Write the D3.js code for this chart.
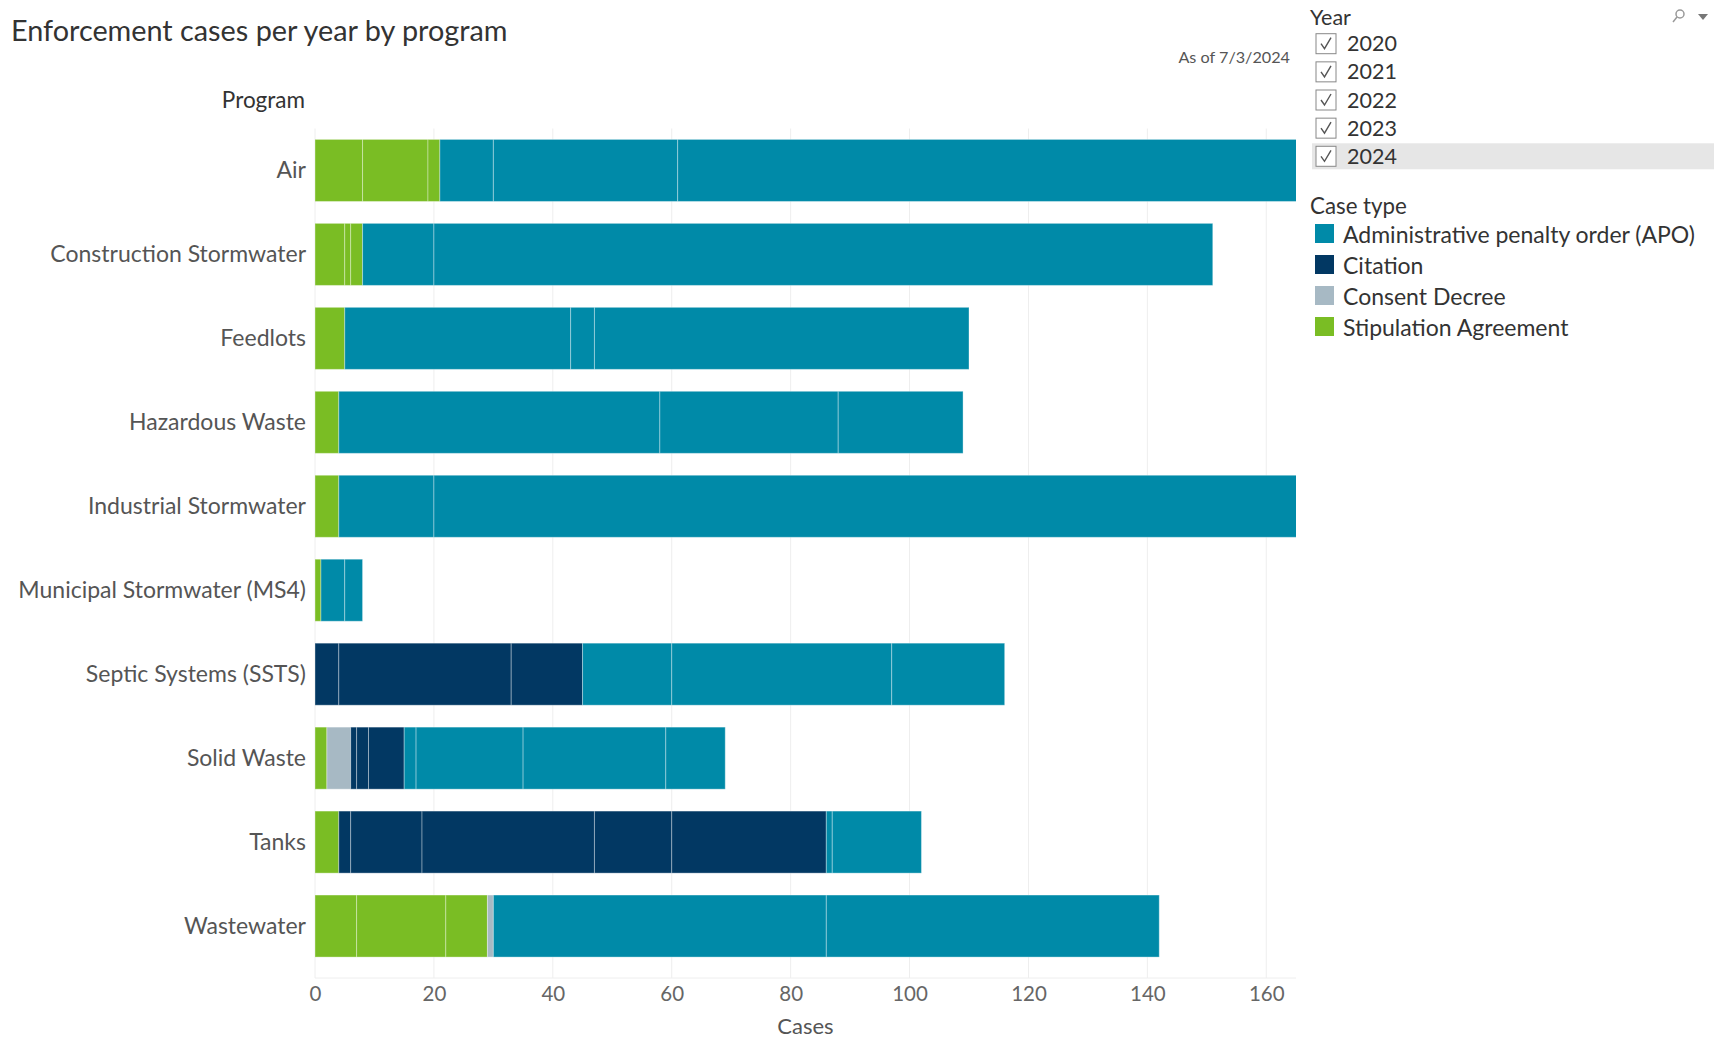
<!DOCTYPE html>
<html>
<head>
<meta charset="utf-8">
<script src="https://cdn.jsdelivr.net/npm/d3@7"></script>
<style>
  html, body { margin: 0; padding: 0; background: #ffffff; }
  svg { display: block; font-family: Lato, "Open Sans", sans-serif; }
</style>
</head>
<body>
<svg id="chart" width="1714" height="1039"></svg>
<script>
// ---------------- DATA ----------------
const programs = [
  "Air", "Construction Stormwater", "Feedlots", "Hazardous Waste",
  "Industrial Stormwater", "Municipal Stormwater (MS4)", "Septic Systems (SSTS)",
  "Solid Waste", "Tanks", "Wastewater"
];
const years = ["2020", "2021", "2022", "2023", "2024"];
// stacking order (left to right)
const caseTypes = ["Stipulation Agreement", "Consent Decree", "Citation", "Administrative penalty order (APO)"];
// legend order
const legendTypes = ["Administrative penalty order (APO)", "Citation", "Consent Decree", "Stipulation Agreement"];
const typeColors = ["#7abd24", "#a7b9c4", "#023863", "#008aa8"];

// cases per program (rows) per year (columns 2020..2024)
const stipulation = [
  [8, 11, 2, 0, 0], [5, 1, 2, 0, 0], [5, 0, 0, 0, 0], [4, 0, 0, 0, 0], [4, 0, 0, 0, 0],
  [1, 0, 0, 0, 0], [0, 0, 0, 0, 0], [2, 0, 0, 0, 0], [4, 0, 0, 0, 0], [7, 15, 7, 0, 0]
];
const consentDecree = [
  [0, 0, 0, 0, 0], [0, 0, 0, 0, 0], [0, 0, 0, 0, 0], [0, 0, 0, 0, 0], [0, 0, 0, 0, 0],
  [0, 0, 0, 0, 0], [0, 0, 0, 0, 0], [4, 0, 0, 0, 0], [0, 0, 0, 0, 0], [1, 0, 0, 0, 0]
];
const citation = [
  [0, 0, 0, 0, 0], [0, 0, 0, 0, 0], [0, 0, 0, 0, 0], [0, 0, 0, 0, 0], [0, 0, 0, 0, 0],
  [0, 0, 0, 0, 0], [4, 29, 12, 0, 0], [1, 2, 6, 0, 0], [2, 12, 29, 13, 26], [0, 0, 0, 0, 0]
];
const apo = [
  [9, 31, 125, 0, 0], [12, 131, 0, 0, 0], [38, 4, 63, 0, 0], [54, 30, 21, 0, 0], [16, 150, 0, 0, 0],
  [4, 3, 0, 0, 0], [15, 37, 19, 0, 0], [2, 18, 24, 10, 0], [1, 15, 0, 0, 0], [56, 56, 0, 0, 0]
];
const seriesByType = [stipulation, consentDecree, citation, apo];

const xTicks = [0, 20, 40, 60, 80, 100, 120, 140, 160];
const xDomain = [0, 165];
const titleText = "Enforcement cases per year by program";
const asOfText = "As of 7/3/2024";

// ---------------- LAYOUT ----------------
const svg = d3.select("#chart");
const plot = { left: 315, right: 1296, top: 128.5, bottom: 968, axisY: 978 };

const x = d3.scaleLinear().domain(xDomain).range([plot.left, plot.right]);
const y = d3.scaleBand().domain(programs).range([plot.top, plot.bottom])
  .paddingInner(0.261).paddingOuter(0.13);
const color = d3.scaleOrdinal().domain(caseTypes).range(typeColors);

// title
svg.append("text").attr("x", 11).attr("y", 41)
  .attr("font-size", 28.8).attr("fill", "#333").text(titleText);

svg.append("text").attr("x", 1290).attr("y", 63).attr("text-anchor", "end")
  .attr("font-size", 16.2).attr("fill", "#555").text(asOfText);

svg.append("text").attr("x", 305).attr("y", 108).attr("text-anchor", "end")
  .attr("font-size", 22.5).attr("fill", "#333").text("Program");

// gridlines
svg.append("g").selectAll("line").data(xTicks).join("line")
  .attr("x1", d => x(d)).attr("x2", d => x(d))
  .attr("y1", plot.top).attr("y2", plot.axisY)
  .attr("stroke", "#eeeeee").attr("stroke-width", 1);
svg.append("line").attr("x1", plot.left).attr("x2", plot.right)
  .attr("y1", plot.axisY).attr("y2", plot.axisY)
  .attr("stroke", "#eeeeee");

// clip
svg.append("clipPath").attr("id", "plotclip").append("rect")
  .attr("x", plot.left).attr("y", plot.top - 5)
  .attr("width", plot.right - plot.left).attr("height", plot.bottom - plot.top + 10);

// segments
const segs = [];
programs.forEach((p, pi) => {
  let acc = 0;
  caseTypes.forEach((ct, ti) => {
    years.forEach((yr, yi) => {
      const v = seriesByType[ti][pi][yi];
      if (v > 0) {
        segs.push({ program: p, type: ct, year: yr, x0: acc, x1: acc + v });
        acc += v;
      }
    });
  });
});

svg.append("g").attr("clip-path", "url(#plotclip)")
  .selectAll("rect").data(segs).join("rect")
  .attr("x", d => x(d.x0))
  .attr("width", d => x(d.x1) - x(d.x0))
  .attr("y", d => y(d.program))
  .attr("height", y.bandwidth())
  .attr("fill", d => color(d.type))
  .attr("stroke", "rgba(255,255,255,0.35)")
  .attr("stroke-width", 1);

// y labels
svg.append("g").selectAll("text").data(programs).join("text")
  .attr("x", 306).attr("y", d => y(d) + y.bandwidth() / 2)
  .attr("dy", "0.35em").attr("text-anchor", "end")
  .attr("font-size", 23).attr("fill", "#555").text(d => d);

// x axis
const xAxis = d3.axisBottom(x).tickValues(xTicks).tickSize(0).tickPadding(0);
const gx = svg.append("g").attr("transform", `translate(0,${plot.axisY})`).call(xAxis);
gx.select(".domain").remove();
gx.selectAll("text").attr("font-size", 20.5).attr("fill", "#666")
  .attr("font-family", "Lato, sans-serif").attr("dy", "1.1em");

svg.append("text").attr("x", (plot.left + plot.right) / 2).attr("y", 1034)
  .attr("text-anchor", "middle").attr("font-size", 22).attr("fill", "#555").text("Cases");

// ---------------- YEAR FILTER LEGEND ----------------
svg.append("text").attr("x", 1310).attr("y", 25).attr("font-size", 21.5).attr("fill", "#333").text("Year");
// search + dropdown icons
svg.append("circle").attr("cx", 1680).attr("cy", 14).attr("r", 4).attr("fill", "none").attr("stroke", "#999").attr("stroke-width", 1.5);
svg.append("line").attr("x1", 1677).attr("y1", 17).attr("x2", 1673).attr("y2", 22).attr("stroke", "#999").attr("stroke-width", 1.5);
svg.append("path").attr("d", "M1698,14 L1708,14 L1703,20 Z").attr("fill", "#777");

const yearRowY = d3.scalePoint().domain(years).range([43.7, 156.3]);
svg.append("rect").attr("x", 1312).attr("y", yearRowY("2024") - 13).attr("width", 402).attr("height", 26).attr("fill", "#e6e6e6");
const yr = svg.append("g").selectAll("g").data(years).join("g")
  .attr("transform", d => `translate(1316,${yearRowY(d)})`);
yr.append("rect").attr("x", 0).attr("y", -10).attr("width", 20).attr("height", 20)
  .attr("fill", "#fff").attr("stroke", "#888").attr("stroke-width", 1);
yr.append("path").attr("d", "M5,0 L8.5,5 L15,-6").attr("fill", "none").attr("stroke", "#555").attr("stroke-width", 1.4);
yr.append("text").attr("x", 31).attr("dy", "0.35em").attr("font-size", 21.5).attr("fill", "#333").text(d => d);

// ---------------- CASE TYPE LEGEND ----------------
svg.append("text").attr("x", 1310).attr("y", 214).attr("font-size", 22.3).attr("fill", "#333").text("Case type");
const legY = d3.scalePoint().domain(legendTypes).range([235, 328]);
const lg = svg.append("g").selectAll("g").data(legendTypes).join("g")
  .attr("transform", d => `translate(1315,${legY(d)})`);
lg.append("rect").attr("x", 0).attr("y", -11).attr("width", 19).attr("height", 19).attr("fill", d => color(d));
lg.append("text").attr("x", 28).attr("dy", "0.35em").attr("font-size", 23).attr("fill", "#333").text(d => d);
</script>
</body>
</html>
